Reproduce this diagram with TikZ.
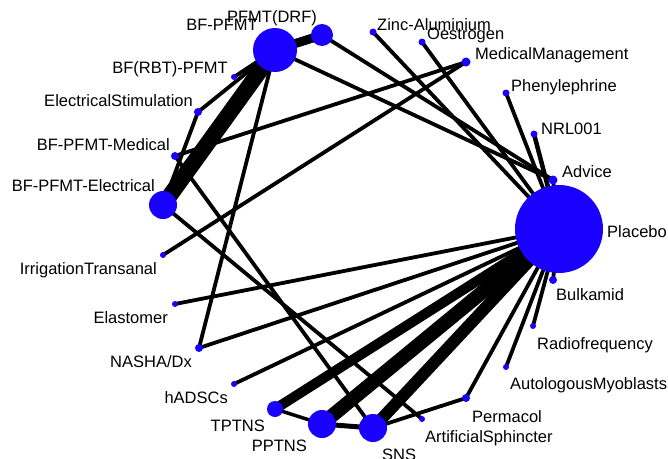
\documentclass[tikz,border=0pt]{standalone}
\usepackage{fontspec}
\setmainfont{Liberation Sans}
\usetikzlibrary{backgrounds}
\definecolor{nodeblue}{RGB}{25,0,255}
\begin{document}
\begin{tikzpicture}[x=1pt,y=-1pt,
  nd/.style={circle,fill=nodeblue,draw=none,inner sep=0pt,minimum size=#1},
  lbl/.style={inner sep=0pt,font=\fontsize{16.5}{18}\selectfont,text=black},
  ed/.style={line width=#1,draw=black},
  ed/.default=3.8pt]
\useasboundingbox (0,0) rectangle (668,458);

% big nodes
\node[nd=88pt] (placebo) at (559,229) {};
\node[nd=44pt] (bfpfmt) at (275,50) {};
\node[nd=22pt] (pfmtdrf) at (322,35) {};
\node[nd=28pt] (bfelec) at (163,205) {};
\node[nd=28pt] (pptns) at (322,424) {};
\node[nd=28pt] (sns) at (373,428) {};
\node[nd=16pt] (tptns) at (275,409) {};
% small nodes
\node[nd=6pt] (bfrbt) at (234,77) {};
\node[nd=8pt] (elstim) at (198,112) {};
\node[nd=8pt] (bfmed) at (175,156) {};
\node[nd=6pt] (irrig) at (163,255) {};
\node[nd=6pt] (elast) at (175,304) {};
\node[nd=8pt] (nasha) at (199,348) {};
\node[nd=6pt] (hadsc) at (234,384) {};
\node[nd=6pt] (artsph) at (422,419) {};
\node[nd=8pt] (permacol) at (466,398) {};
\node[nd=6pt] (automyo) at (506,367) {};
\node[nd=6pt] (radio) at (533,326) {};
\node[nd=8pt] (bulk) at (553,280) {};
\node[nd=9pt] (advice) at (553,180) {};
\node[nd=7pt] (nrl) at (534,134) {};
\node[nd=7pt] (phenyl) at (506,93) {};
\node[nd=9pt] (medmgmt) at (466,62) {};
\node[nd=7pt] (oestr) at (422,42) {};
\node[nd=7pt] (zinc) at (373,32) {};

% labels
\node[lbl,anchor=base] (pfmtdrfl) at (272,22) {PFMT(DRF)};
\node[lbl,anchor=base east] (bfpfmtl) at (258,30) {BF-PFMT};
\node[lbl,anchor=base east] (bfrbtl) at (228,73) {BF(RBT)-PFMT};
\node[lbl,anchor=base east] (elstiml) at (193,106) {ElectricalStimulation};
\node[lbl,anchor=base east] (bfmedl) at (170,150) {BF-PFMT-Medical};
\node[lbl,anchor=base east] (bfelecl) at (155,191) {BF-PFMT-Electrical};
\node[lbl,anchor=base east] (irrigl) at (157,274) {IrrigationTransanal};
\node[lbl,anchor=base east] (elastl) at (168,323) {Elastomer};
\node[lbl,anchor=base east] (nashal) at (192,367) {NASHA/Dx};
\node[lbl,anchor=base east] (hadscl) at (228,403) {hADSCs};
\node[lbl,anchor=base east] (tptnsl) at (265,431) {TPTNS};
\node[lbl,anchor=base east] (pptnsl) at (307,451) {PPTNS};
\node[lbl,anchor=base west] (snsl) at (382,460) {SNS};
\node[lbl,anchor=base west] (artsphl) at (425,442) {ArtificialSphincter};
\node[lbl,anchor=base west] (permacoll) at (472,422) {Permacol};
\node[lbl,anchor=base west] (automyol) at (510,389) {AutologousMyoblasts};
\node[lbl,anchor=base west] (radiol) at (537,349) {Radiofrequency};
\node[lbl,anchor=base west] (bulkl) at (556,300) {Bulkamid};
\node[lbl,anchor=base west] (placebol) at (607,237) {Placebo};
\node[lbl,anchor=base west] (advicel) at (562,177) {Advice};
\node[lbl,anchor=base west] (nrll) at (541,134) {NRL001};
\node[lbl,anchor=base west] (phenyll) at (511,91) {Phenylephrine};
\node[lbl,anchor=base west] (medmgmtl) at (475,59) {MedicalManagement};
\node[lbl,anchor=base west] (oestrl) at (427,39.5) {Oestrogen};
\node[lbl,anchor=base west] (zincl) at (377,30) {Zinc-Aluminium};

% edges
\begin{scope}[on background layer]
\draw[ed=9pt] (bfpfmt.center) -- (pfmtdrf.center);
\draw[ed=16pt] (bfpfmt.center) -- (bfelec.center);
\draw[ed] (bfpfmt.center) -- (bfrbt.center);
\draw[ed] (bfpfmt.center) -- (elstim.center);
\draw[ed] (elstim.center) -- (bfelec.center);
\draw[ed] (bfpfmt.center) -- (nasha.center);
\draw[ed] (bfpfmt.center) -- (advice.center);
\draw[ed] (pfmtdrf.center) -- (advice.center);
\draw[ed] (medmgmt.center) -- (bfmed.center);
\draw[ed] (medmgmt.center) -- (irrig.center);
\draw[ed] (bfmed.center) -- (sns.center);
\draw[ed] (bfelec.center) -- (artsph.center);
\draw[ed] (placebo.center) -- (zinc.center);
\draw[ed] (placebo.center) -- (oestr.center);
\draw[ed] (placebo.center) -- (phenyl.center);
\draw[ed=4.5pt] (placebo.center) -- (nrl.center);
\draw[ed] (placebo.center) -- (advice.center);
\draw[ed] (placebo.center) -- (bulk.center);
\draw[ed] (placebo.center) -- (radio.center);
\draw[ed] (placebo.center) -- (automyo.center);
\draw[ed] (placebo.center) -- (permacol.center);
\draw[ed] (permacol.center) -- (sns.center);
\draw[ed] (placebo.center) -- (elast.center);
\draw[ed] (placebo.center) -- (nasha.center);
\draw[ed] (placebo.center) -- (hadsc.center);
\draw[ed=10pt] (placebo.center) -- (tptns.center);
\draw[ed=14pt] (placebo.center) -- (pptns.center);
\draw[ed=12pt] (placebo.center) -- (sns.center);
\draw[ed=3.5pt] (tptns.center) -- (pptns.center);
\draw[ed=5pt] (pptns.center) -- (sns.center);
\end{scope}
\end{tikzpicture}
\end{document}
